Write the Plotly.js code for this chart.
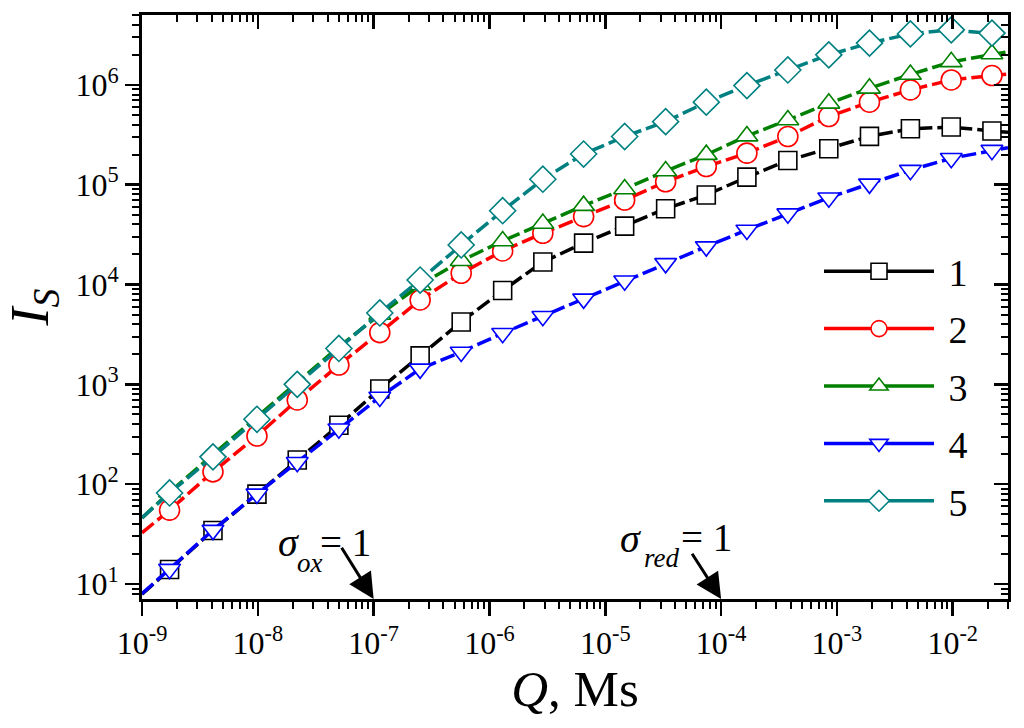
<!DOCTYPE html>
<html>
<head>
<meta charset="utf-8">
<script src="https://cdn.plot.ly/plotly-3.0.1.min.js"></script>
<style>
  html, body { margin: 0; padding: 0; background: #fff; }
  #plot { width: 1024px; height: 728px; }
</style>
</head>
<body>
<div id="plot"></div>
<script>
// ########################################################################
// # DATA
// ########################################################################

// Q, Ms at the symbols
var q_sym = [1.73e-9, 4.10e-9, 9.83e-9, 2.19e-8, 5.01e-8, 1.13e-7, 2.52e-7, 5.70e-7,
             1.30e-6, 2.89e-6, 6.50e-6, 1.47e-5, 3.32e-5, 7.45e-5, 1.67e-4, 3.77e-4,
             8.51e-4, 1.91e-3, 4.31e-3, 9.71e-3, 2.18e-2];
// curves run from the left edge to the right edge, no symbol there
var q_start = 1e-9;
var q_end = 3e-2;

var names = ['1', '2', '3', '4', '5'];

var is_1 = [14.0, 34.4, 79.6, 175, 389, 900, 1930, 4220, 8710, 16800, 26000, 38500,
            57500, 79000, 119000, 175000, 229000, 305000, 363000, 378000, 345000];
var is_2 = [55, 133, 304, 698, 1563, 3300, 7010, 12970, 21700, 32600, 47900, 70300,
            107000, 152000, 207000, 304000, 482000, 671000, 891000, 1120000, 1240000];
var is_3 = [83, 198, 473, 1060, 2380, 5010, 9880, 17300, 27300, 40900, 61700, 90500,
            137000, 200000, 307000, 445000, 653000, 923000, 1270000, 1700000, 2040000];
var is_4 = [14.1, 34.7, 80, 166, 359, 747, 1430, 2110, 3250, 4820, 7190, 10900,
            16300, 24000, 35200, 51300, 74100, 102000, 140000, 184000, 222000];
var is_5 = [81.7, 188, 447, 1000, 2290, 5190, 11100, 24900, 54900, 113500, 203000, 304000,
            428000, 671000, 984000, 1410000, 2000000, 2620000, 3240000, 3560000, 3300000];

// curve values at q_start and q_end
var is_start = [7.9, 32.6, 46, 8.0, 46];
var is_end = [335000, 1280000, 2150000, 235000, 3150000];

var x_tickvals = [1e-9, 1e-8, 1e-7, 1e-6, 1e-5, 1e-4, 1e-3, 1e-2];
var x_ticktext = ['10<sup>-9</sup>', '10<sup>-8</sup>', '10<sup>-7</sup>', '10<sup>-6</sup>',
                  '10<sup>-5</sup>', '10<sup>-4</sup>', '10<sup>-3</sup>', '10<sup>-2</sup>'];
var y_tickvals = [1e1, 1e2, 1e3, 1e4, 1e5, 1e6];
var y_ticktext = ['10<sup>1</sup>', '10<sup>2</sup>', '10<sup>3</sup>',
                  '10<sup>4</sup>', '10<sup>5</sup>', '10<sup>6</sup>'];

// ########################################################################
// # STYLE
// ########################################################################
var colors = ['#000000', '#ff0000', '#008000', '#0000ff', '#008080'];
var symbols = ['square', 'circle', 'triangle-up', 'triangle-down', 'diamond'];
var sym_size = [18, 20, 19, 19, 20];
var font_fam = 'Liberation Serif, Times New Roman, serif';

var x_range = [-9, Math.log10(0.03)];
var y_range = [0.85, 6.70];

var all_is = [is_1, is_2, is_3, is_4, is_5];
var data = [];

// the curves themselves (dashed), symbols only at q_sym
for (var i = 0; i < all_is.length; i++) {
  var sizes = [0];
  for (var k = 0; k < q_sym.length; k++) sizes.push(sym_size[i]);
  sizes.push(0);
  data.push({
    x: [q_start].concat(q_sym, [q_end]),
    y: [is_start[i]].concat(all_is[i], [is_end[i]]),
    type: 'scatter',
    mode: 'lines+markers',
    name: names[i],
    showlegend: false,
    line: {color: colors[i], width: 3.5, dash: '15px,5px'},
    marker: {symbol: symbols[i], size: sizes, color: '#ffffff', opacity: 1,
             line: {color: colors[i], width: 1.6}}
  });
}

// legend entries: solid line with the symbol in the middle (on the frame axes)
for (var i = 0; i < all_is.length; i++) {
  data.push({
    x: [null],
    y: [null],
    xaxis: 'x2',
    yaxis: 'y2',
    type: 'scatter',
    mode: 'lines+markers',
    name: ' ' + names[i],
    legendgroup: 'g' + i,
    line: {color: colors[i], width: 3.5},
    marker: {symbol: symbols[i], size: 18, color: '#ffffff', opacity: 1,
             line: {color: colors[i], width: 1.6}}
  });
}

var axis_common = {
  type: 'log',
  showgrid: false,
  zeroline: false,
  showline: true,
  linecolor: '#000',
  linewidth: 3,
  tickcolor: '#000',
  tickwidth: 2.5,
  ticklen: 14,
  tickmode: 'array',
  tickfont: {family: font_fam, size: 32, color: '#000'}
};

var xaxis = Object.assign({}, axis_common, {
  range: x_range,
  ticks: 'outside',
  tickvals: x_tickvals,
  ticktext: x_ticktext,
  minor: {ticks: 'outside', ticklen: 7, tickwidth: 2, tickcolor: '#000', dtick: 'D1'},
  title: {text: '<i>Q</i>, Ms', font: {family: font_fam, size: 51, color: '#000'}, standoff: 0}
});
var yaxis = Object.assign({}, axis_common, {
  range: y_range,
  ticks: 'outside',
  tickvals: y_tickvals,
  ticktext: y_ticktext,
  minor: {ticks: 'outside', ticklen: 7, tickwidth: 2, tickcolor: '#000', dtick: 'D1'},
  title: {text: '<i>I</i><sub><i>S</i></sub>', font: {family: font_fam, size: 54, color: '#000'}, standoff: 18}
});
// top and right frame, ticks pointing in
var xaxis2 = Object.assign({}, axis_common, {
  range: x_range, overlaying: 'x', side: 'top', anchor: 'y2',
  ticks: 'inside', tickvals: x_tickvals, showticklabels: false,
  minor: {ticks: 'inside', ticklen: 7, tickwidth: 2, tickcolor: '#000', dtick: 'D1'}
});
var yaxis2 = Object.assign({}, axis_common, {
  range: y_range, overlaying: 'y', side: 'right', anchor: 'x2',
  ticks: 'inside', tickvals: y_tickvals, showticklabels: false,
  minor: {ticks: 'inside', ticklen: 7, tickwidth: 2, tickcolor: '#000', dtick: 'D1'}
});

// paper coords from pixel positions of the plot area
var px = function (x) { return (x - 142) / 866; };
var py = function (y) { return (599 - y) / 584; };

var txt = function (x, y, text, size, xanchor) {
  return {xref: 'paper', yref: 'paper', x: px(x), y: py(y), text: text, showarrow: false,
          xanchor: xanchor, yanchor: 'middle',
          font: {family: font_fam, size: size, color: '#000'}};
};
var arrow = function (q, ax, ay) {
  return {xref: 'x', yref: 'paper', x: Math.log10(q), y: 0, text: ' ',
          showarrow: true, arrowhead: 2, arrowsize: 1.7, arrowwidth: 3, arrowcolor: '#000',
          ax: ax, ay: ay, standoff: 0};
};

var annotations = [
  txt(288, 542, '<i>σ</i>', 40, 'center'),
  txt(310, 563, '<i>ox</i>', 27, 'center'),
  txt(318, 542, '= 1', 39, 'left'),
  arrow(1e-7, -35, -56),
  txt(630, 538, '<i>σ</i>', 40, 'center'),
  txt(661, 558, '<i>red</i>', 27, 'center'),
  txt(679, 537, '= 1', 39, 'left'),
  arrow(1e-4, -32, -50)
];

var layout = {
  width: 1024,
  height: 728,
  margin: {l: 142, r: 16, t: 15, b: 129},
  paper_bgcolor: '#fff',
  plot_bgcolor: '#fff',
  hovermode: false,
  xaxis: xaxis,
  yaxis: yaxis,
  xaxis2: xaxis2,
  yaxis2: yaxis2,
  showlegend: true,
  legend: {
    x: px(819), y: py(240), xanchor: 'left', yanchor: 'top',
    bgcolor: 'rgba(0,0,0,0)',
    font: {family: font_fam, size: 38, color: '#000'},
    itemwidth: 110,
    tracegroupgap: 5,
    traceorder: 'grouped'
  },
  annotations: annotations
};

Plotly.newPlot('plot', data, layout, {displayModeBar: false, staticPlot: true});
</script>
</body>
</html>
